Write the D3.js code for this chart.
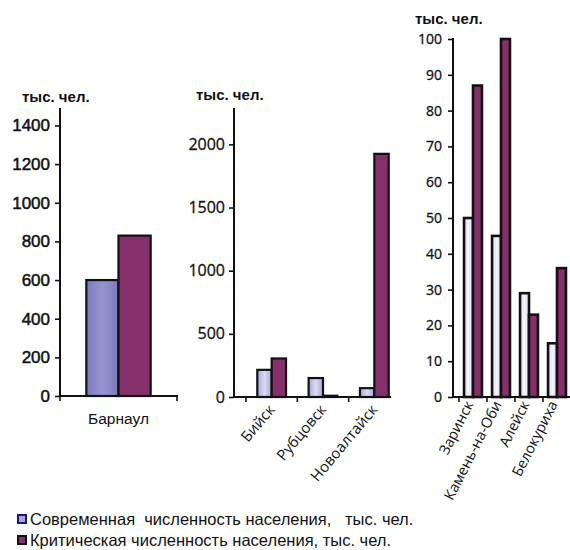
<!DOCTYPE html>
<html><head><meta charset="utf-8">
<script src="https://cdn.jsdelivr.net/npm/d3@7/dist/d3.min.js"></script>
<style>body{margin:0;background:#fff}svg{display:block}text{font-family:"Liberation Sans",Arial,sans-serif;fill:#111}</style>
</head><body>
<script>
// ---- data ----
const unitLabel = "тыс. чел.";
const seriesNames = ["Современная  численность населения,   тыс. чел.", "Критическая численность населения, тыс. чел."];

const p1Cats = ["Барнаул"];
const p1Current = [600];
const p1Critical = [830];
const p1Ticks = [0, 200, 400, 600, 800, 1000, 1200, 1400];

const p2Cats = ["Бийск", "Рубцовск", "Новоалтайск"];
const p2Current = [215, 150, 70];
const p2Critical = [305, 10, 1925];
const p2Ticks = [0, 500, 1000, 1500, 2000];

const p3Cats = ["Заринск", "Камень-на-Оби", "Алейск", "Белокуриха"];
const p3Current = [50, 45, 29, 15];
const p3Critical = [87, 100, 23, 36];
const p3Ticks = [0, 10, 20, 30, 40, 50, 60, 70, 80, 90, 100];

const W = 570, H = 550;
const svg = d3.select("body").append("svg").attr("width", W).attr("height", H);
const defs = svg.append("defs");
function grad(id, edge, mid) {
  const g = defs.append("linearGradient").attr("id", id).attr("x1", "0").attr("x2", "1").attr("y1", "0").attr("y2", "0");
  g.append("stop").attr("offset", "0").attr("stop-color", edge);
  g.append("stop").attr("offset", "0.5").attr("stop-color", mid);
  g.append("stop").attr("offset", "1").attr("stop-color", edge);
}
grad("g1", "#7c7abb", "#9795d0");
grad("g2", "#a9a7da", "#dcdaf3");
grad("g3", "#dcdaf0", "#f4f3fb");
const darkFill = "#86306b";

function panel(o) {
  const g = svg.append("g");
  const y = d3.scaleLinear().domain([0, o.yMax]).range([o.y0, o.yTop]);
  const x = d3.scaleBand().domain(o.cats).range(o.xRange).padding(0);
  const inner = d3.scaleBand().domain([0, 1]).range([0, x.bandwidth() * o.frac]).padding(0);
  const off = x.bandwidth() * (1 - o.frac) / 2;

  // y axis
  const ya = d3.axisLeft(y).tickValues(o.ticks).tickFormat(d3.format("d")).tickSize(5).tickPadding(o.tickPad).tickSizeOuter(0);
  const yg = g.append("g").attr("transform", `translate(${o.ax},0)`).call(ya);
  yg.select(".domain").remove();
  yg.selectAll("line").attr("stroke", "#111").attr("stroke-width", 1.6);
  yg.selectAll("text").style("font-size", o.tickFont + "px").attr("fill", "#111").style("font-family", o.font)
    .attr("stroke", "#111").attr("stroke-width", o.tickStroke);
  g.append("line").attr("x1", o.ax).attr("x2", o.ax).attr("y1", o.axisTop).attr("y2", o.y0)
    .attr("stroke", "#111").attr("stroke-width", 2);

  // x axis line + boundary ticks
  g.append("line").attr("x1", o.ax).attr("x2", o.xEnd).attr("y1", o.y0).attr("y2", o.y0)
    .attr("stroke", "#111").attr("stroke-width", 2);
  const bounds = o.cats.map(c => x(c)).concat([x(o.cats[o.cats.length - 1]) + x.bandwidth()])
    .filter(b => b <= o.xEnd + 1);
  g.selectAll(".xt").data(bounds).enter().append("line")
    .attr("x1", d => d).attr("x2", d => d).attr("y1", o.y0).attr("y2", o.y0 + 5)
    .attr("stroke", "#111").attr("stroke-width", 1.6);

  // bars
  const rows = o.cats.map((c, i) => ({ c, v: [o.cur[i], o.crit[i]] }));
  rows.forEach(r => {
    r.v.forEach((v, k) => {
      g.append("rect")
        .attr("x", x(r.c) + off + inner(k))
        .attr("y", y(v))
        .attr("width", inner.bandwidth())
        .attr("height", Math.max(0, o.y0 - y(v)))
        .attr("fill", k === 0 ? `url(#${o.grad})` : darkFill)
        .attr("stroke", "#111").attr("stroke-width", o.barStroke);
    });
  });

  // category labels
  o.cats.forEach(c => {
    const cx = x(c) + x.bandwidth() / 2 + o.labDx;
    const t = g.append("text").text(c).style("font-size", o.catFont + "px").style("font-family", o.font);
    if (o.rot) {
      t.attr("text-anchor", "end").attr("transform", `translate(${cx},${o.labY}) rotate(${o.rot})`);
    } else {
      t.attr("text-anchor", "middle").attr("x", cx).attr("y", o.labY);
    }
  });

  // unit label
  g.append("text").text(unitLabel).attr("x", o.unitX).attr("y", o.unitY)
    .style("font-size", "15px").style("font-weight", "bold").style("font-family", "'Liberation Sans', Arial, sans-serif");
}

panel({ cats: p1Cats, cur: p1Current, crit: p1Critical, ticks: p1Ticks, yMax: 1480, y0: 396, yTop: 110, axisTop: 108,
  ax: 60, xRange: [60, 177], xEnd: 178, frac: 0.55, grad: "g1", tickFont: 17, tickPad: 5, tickStroke: 0.5, catFont: 15.5,
  labY: 424, labDx: 0, rot: 0, unitX: 22, unitY: 102, barStroke: 2.2, font: "'Liberation Sans', Arial, sans-serif" });

panel({ cats: p2Cats, cur: p2Current, crit: p2Critical, ticks: p2Ticks, yMax: 2280, y0: 397, yTop: 109, axisTop: 108,
  ax: 234, xRange: [246, 400], xEnd: 391, frac: 0.56, grad: "g2", tickFont: 16, tickPad: 4, tickStroke: 0.3, catFont: 15,
  labY: 410, labDx: 4, rot: -50, unitX: 196, unitY: 100, barStroke: 2.2, font: "'Open Sans', sans-serif" });

panel({ cats: p3Cats, cur: p3Current, crit: p3Critical, ticks: p3Ticks, yMax: 100, y0: 397, yTop: 39, axisTop: 38,
  ax: 453, xRange: [459, 571], xEnd: 570, frac: 0.64, grad: "g3", tickFont: 14, tickPad: 6, tickStroke: 0.3, catFont: 14.5,
  labY: 404, labDx: 1, rot: -63, unitX: 415, unitY: 24, barStroke: 2.6, font: "'Open Sans', sans-serif" });

// legend
const leg = svg.append("g");
const legFills = ["#a8a6dc", darkFill];
const legStroke = ["#1a1a6a", "#111"];
seriesNames.forEach((n, i) => {
  const yy = 520 + i * 21;
  leg.append("rect").attr("x", 18).attr("y", yy - 5).attr("width", 8).attr("height", 8)
    .attr("fill", legFills[i]).attr("stroke", legStroke[i]).attr("stroke-width", 2);
  leg.append("text").text(n).attr("x", 30).attr("y", yy + 5).style("font-size", "16.5px").attr("xml:space", "preserve")
    .style("white-space", "pre");
});
</script>
</body></html>
